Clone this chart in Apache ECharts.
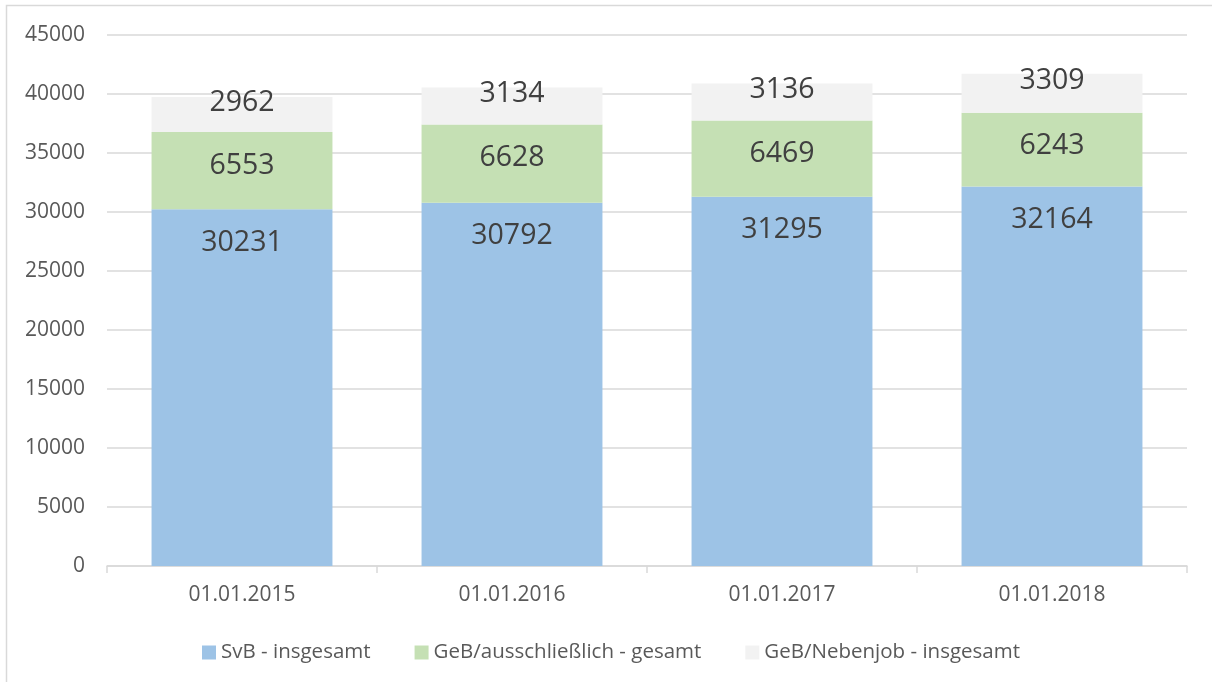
<!DOCTYPE html>
<html>
<head>
<meta charset="utf-8">
<script src="https://cdn.jsdelivr.net/npm/echarts@6/dist/echarts.min.js"></script>
<style>html,body{margin:0;padding:0;background:#fff}#c{width:1212px;height:682px}</style>
</head>
<body>
<div id="c"></div>
<script>
const categories = ['01.01.2015', '01.01.2016', '01.01.2017', '01.01.2018'];
const svbInsgesamt = [30231, 30792, 31295, 32164];
const gebAusschliesslich = [6553, 6628, 6469, 6243];
const gebNebenjob = [2962, 3134, 3136, 3309];
const seriesNames = ['SvB - insgesamt', 'GeB/ausschließlich - gesamt', 'GeB/Nebenjob - insgesamt'];
const yTicks = { min: 0, max: 45000, interval: 5000 };

const font = '"Open Sans", "Noto Sans", sans-serif';
const chart = echarts.init(document.getElementById('c'), null, { renderer: 'canvas' });
const labelBase = { show: true, color: '#404040', fontSize: 28.5, fontFamily: font };
chart.setOption({
  animation: false,
  graphic: [{
    type: 'rect', shape: { x: 6.5, y: 5.5, width: 1300, height: 800 },
    style: { fill: 'none', stroke: '#D9D9D9', lineWidth: 1.5 }, silent: true, z: -1
  }],
  grid: { left: 107, right: 25, top: 35, bottom: 116 },
  legend: {
    left: 197, top: 637, itemWidth: 14, itemHeight: 14, itemGap: 44,
    icon: 'rect',
    textStyle: { color: '#595959', fontSize: 20.5, fontFamily: font },
    data: seriesNames
  },
  xAxis: {
    type: 'category', data: categories,
    axisLine: { lineStyle: { color: '#D9D9D9', width: 1.5 } },
    axisTick: { show: true, length: 7, lineStyle: { color: '#D9D9D9', width: 1.5 } },
    axisLabel: { color: '#595959', fontSize: 21, fontFamily: font, margin: 19 }
  },
  yAxis: {
    type: 'value', min: yTicks.min, max: yTicks.max, interval: yTicks.interval,
    axisLine: { show: false }, axisTick: { show: false },
    splitLine: { lineStyle: { color: '#D9D9D9', width: 1.5 } },
    axisLabel: { color: '#595959', fontSize: 21, fontFamily: font, margin: 22,
      formatter: function (v) { return String(v); } }
  },
  series: [
    { name: seriesNames[0], type: 'bar', stack: 's', data: svbInsgesamt, barCategoryGap: '33%',
      itemStyle: { color: '#9DC3E6' },
      label: Object.assign({}, labelBase, { position: 'insideTop', distance: 19 }) },
    { name: seriesNames[1], type: 'bar', stack: 's', data: gebAusschliesslich,
      itemStyle: { color: '#C5E0B4' },
      label: Object.assign({}, labelBase, { position: 'insideTop', distance: 19 }) },
    { name: seriesNames[2], type: 'bar', stack: 's', data: gebNebenjob,
      itemStyle: { color: '#F2F2F2' },
      label: Object.assign({}, labelBase, { position: 'inside', offset: [0, -12] }) }
  ]
});
</script>
</body>
</html>
